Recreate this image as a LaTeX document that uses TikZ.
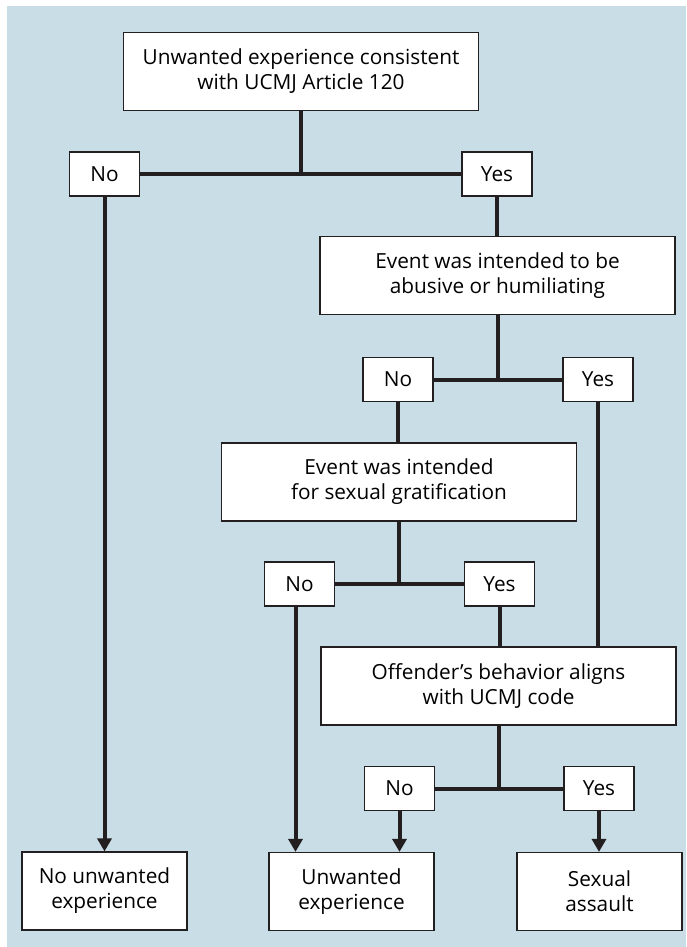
\documentclass[tikz,border=0pt]{standalone}
\usepackage{fontspec}
\setmainfont{Open Sans}
\usetikzlibrary{arrows.meta}
\definecolor{bgblue}{RGB}{201,221,231}
\definecolor{ink}{RGB}{35,31,32}
\begin{document}
\begin{tikzpicture}[x=0.5pt, y=-0.5pt,
        question/.style={rectangle, draw=ink, fill=white, line width=0.6pt, inner sep=0pt, minimum width=177.5pt, minimum height=39pt, align=center, font=\fontsize{10.4}{12.5}\selectfont},
        answer/.style={rectangle, draw=ink, fill=white, line width=0.6pt, inner sep=0pt, minimum width=35pt, minimum height=22pt, font=\fontsize{10.4}{12.5}\selectfont},
        outcome/.style={rectangle, draw=ink, fill=white, line width=0.6pt, inner sep=0pt, minimum width=82.5pt, minimum height=39pt, align=center, font=\fontsize{10.4}{12.5}\selectfont},
        link/.style={draw=ink, line width=2pt},
        flow/.style={link, -{Triangle[width=7pt, length=6.5pt]}},]

        % Background
        \useasboundingbox (0,0) rectangle (686,947);
        \fill[bgblue] (7,6) rectangle (686,947);

        % Questions
        \node[question] (q1) at (301,71.5)   {Unwanted experience consistent\\with UCMJ Article 120};
        \node[question] (q2) at (497.5,275.5) {Event was intended to be\\abusive or humiliating};
        \node[question] (q3) at (399,482)    {Event was intended\\for sexual gratification};
        \node[question] (q4) at (498.5,686)  {Offender’s behavior aligns\\with UCMJ code};

        % Answers
        \node[answer] (no1)  at (104.5,174)  {No};
        \node[answer] (yes1) at (497,174)    {Yes};
        \node[answer] (no2)  at (398,379.5)  {No};
        \node[answer] (yes2) at (598,379.5)  {Yes};
        \node[answer] (no3)  at (299.5,584)  {No};
        \node[answer] (yes3) at (499.5,584)  {Yes};
        \node[answer] (no4)  at (399.5,788.5) {No};
        \node[answer] (yes4) at (599,788.5)  {Yes};

        % Outcomes
        \node[outcome] (end1) at (104.5,891) {No unwanted\\experience};
        \node[outcome] (end2) at (351.5,891.5) {Unwanted\\experience};
        \node[outcome] (end3) at (599.5,891.5) {Sexual\\assault};

        % Links
        \draw[link] (q1) -- (q1 |- no1);
        \draw[link] (no1) -- (yes1);
        \draw[link] (yes1) -- (yes1 |- q2.north);
        \draw[link] (q2) -- (q2 |- no2);
        \draw[link] (no2) -- (yes2);
        \draw[link] (no2.south) -- (no2.south |- q3.north);
        \draw[link] (yes2.south) -- (yes2.south |- q4.north);
        \draw[link] (q3) -- (q3 |- no3);
        \draw[link] (no3) -- (yes3);
        \draw[link] (yes3.south) -- (yes3.south |- q4.north);
        \draw[link] (q4) -- (q4 |- no4);
        \draw[link] (no4) -- (yes4);
        \draw[flow] (no1.south) -- (no1.south |- end1.north);
        \draw[flow] ([xshift=-2pt]no3.south) -- ([xshift=-2pt]no3.south |- end2.north);
        \draw[flow] (no4.south) -- (no4.south |- end2.north);
        \draw[flow] (yes4.south) -- (yes4.south |- end3.north);
    \end{tikzpicture}
\end{document}
